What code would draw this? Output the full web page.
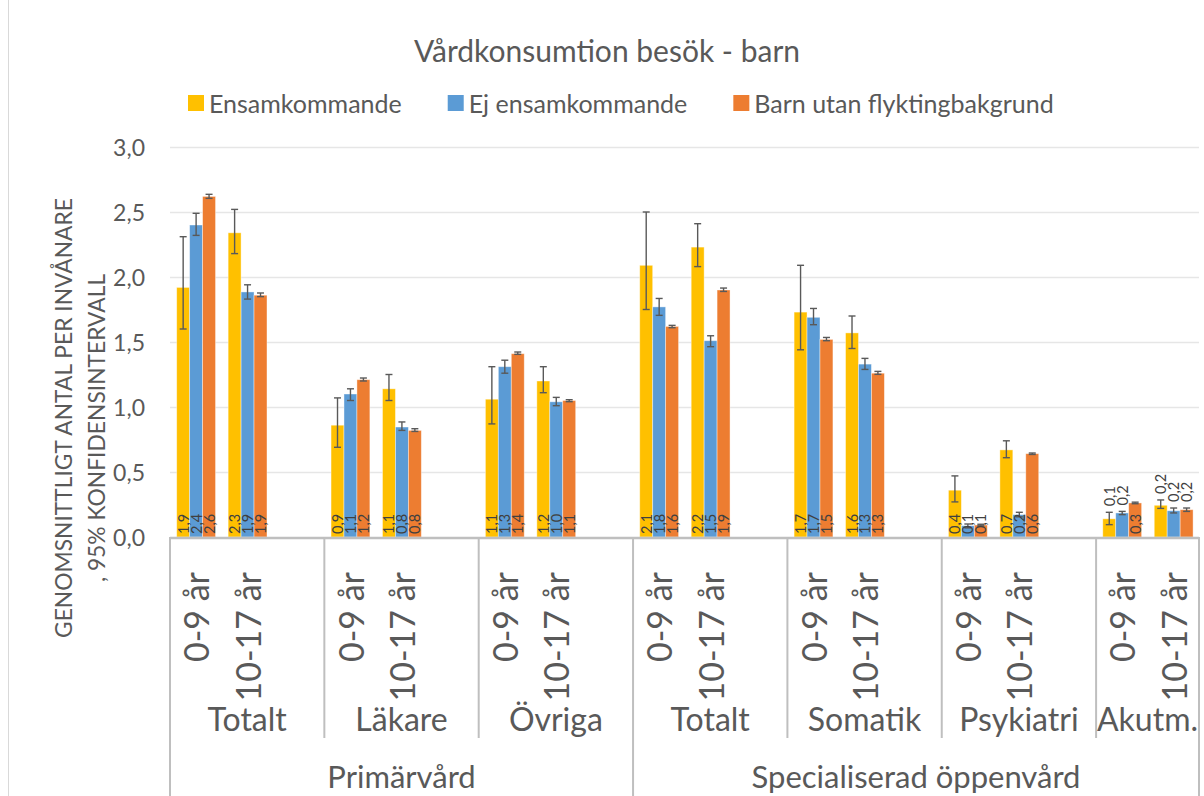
<!DOCTYPE html>
<html>
<head>
<meta charset="utf-8">
<script src="https://cdn.jsdelivr.net/npm/d3@7"></script>
<style>
  body { margin: 0; background: #fff; }
  text { font-family: Lato, 'Open Sans', sans-serif; fill: #595959; }
</style>
</head>
<body>
<div id="chart"></div>
<script>
const title = 'Vårdkonsumtion besök - barn';
const series = ['Ensamkommande', 'Ej ensamkommande', 'Barn utan flyktingbakgrund'];
const colors = ['#FFC000', '#5B9BD5', '#ED7D31'];
const ages = ['0-9 år', '10-17 år'];
const groups = ['Totalt', 'Läkare', 'Övriga', 'Totalt', 'Somatik', 'Psykiatri', 'Akutm.'];
const primaries = ['Primärvård', 'Specialiserad öppenvård'];
const primaryOf = [0, 0, 0, 1, 1, 1, 1];
const yTicks = [0, 0.5, 1, 1.5, 2, 2.5, 3];
const yTitle = ['GENOMSNITTLIGT ANTAL PER INVÅNARE', ', 95% KONFIDENSINTERVALL'];

// one value per group x age (14), in group order
const ensam = [1.92, 2.34, 0.86, 1.14, 1.06, 1.2, 2.09, 2.23, 1.73, 1.57, 0.36, 0.67, 0.14, 0.244];
const ensamLow = [1.6, 2.18, 0.69, 1.05, 0.87, 1.11, 1.75, 2.08, 1.44, 1.45, 0.27, 0.61, 0.095, 0.22];
const ensamHigh = [2.31, 2.52, 1.07, 1.25, 1.31, 1.31, 2.5, 2.41, 2.09, 1.7, 0.47, 0.74, 0.19, 0.285];
const ej = [2.4, 1.885, 1.1, 0.846, 1.31, 1.04, 1.77, 1.51, 1.69, 1.33, 0.087, 0.172, 0.185, 0.202];
const ejLow = [2.32, 1.83, 1.05, 0.82, 1.26, 1.01, 1.705, 1.464, 1.633, 1.289, 0.07, 0.155, 0.172, 0.185];
const ejHigh = [2.49, 1.94, 1.14, 0.885, 1.36, 1.074, 1.835, 1.548, 1.758, 1.374, 0.1, 0.19, 0.197, 0.223];
const barn = [2.62, 1.86, 1.21, 0.82, 1.41, 1.05, 1.62, 1.9, 1.52, 1.26, 0.092, 0.641, 0.262, 0.21];
const barnLow = [2.605, 1.849, 1.2, 0.812, 1.405, 1.041, 1.61, 1.889, 1.51, 1.251, 0.086, 0.635, 0.256, 0.197];
const barnHigh = [2.636, 1.877, 1.223, 0.833, 1.423, 1.056, 1.628, 1.915, 1.535, 1.274, 0.098, 0.646, 0.268, 0.223];

const values = [ensam, ej, barn];
const lows = [ensamLow, ejLow, barnLow];
const highs = [ensamHigh, ejHigh, barnHigh];

const width = 1204;
const height = 796;
const plot = { left: 170, right: 1199, top: 147, bottom: 537 };

const svg = d3
  .select('#chart')
  .append('svg')
  .attr('width', width)
  .attr('height', height);

svg
  .append('rect')
  .attr('width', width)
  .attr('height', height)
  .attr('fill', '#fff');

// chart area border (left edge only is visible)
svg
  .append('line')
  .attr('x1', 8.5)
  .attr('x2', 8.5)
  .attr('y1', 0)
  .attr('y2', height)
  .attr('stroke', '#d9d9d9');

// each group gets 3 slots (2 ages + a spacer), last group has no spacer
const slotCount = groups.length * 3 - 1;
const x = d3
  .scaleBand()
  .domain(d3.range(slotCount))
  .range([plot.left, plot.right]);
const bw = x.bandwidth();
const xSub = d3
  .scaleBand()
  .domain(d3.range(series.length))
  .range([bw * 0.13, bw * 0.885]);
const y = d3
  .scaleLinear()
  .domain([0, 3])
  .range([plot.bottom, plot.top]);

const groupStart = g => x(g * 3);
const groupEnd = g => (g === groups.length - 1 ? plot.right : x(g * 3 + 3));

// gridlines
svg
  .append('g')
  .selectAll('line')
  .data(yTicks.slice(1))
  .enter()
  .append('line')
  .attr('x1', plot.left)
  .attr('x2', plot.right)
  .attr('y1', d => Math.round(y(d)) + 0.5)
  .attr('y2', d => Math.round(y(d)) + 0.5)
  .attr('stroke', '#e6e6e6')
  .attr('stroke-width', 1.5);

svg
  .append('g')
  .selectAll('text')
  .data(yTicks)
  .enter()
  .append('text')
  .attr('x', 145)
  .attr('y', d => y(d))
  .attr('text-anchor', 'end')
  .attr('dominant-baseline', 'central')
  .style('font-size', '23px')
  .text(d => d.toFixed(1).replace('.', ','));

// y axis title, two rotated lines
svg
  .append('g')
  .selectAll('text')
  .data(yTitle)
  .enter()
  .append('text')
  .attr('transform', (d, i) => `translate(${63 + i * 33},${418 + i * 10}) rotate(-90)`)
  .attr('text-anchor', 'middle')
  .attr('dominant-baseline', 'central')
  .style('font-size', '22.8px')
  .text(d => d);

// bars
const cells = [];
values.forEach((vals, s) => {
  vals.forEach((v, c) => {
    const g = Math.floor(c / 2);
    const slot = g * 3 + (c % 2);
    cells.push({ s, g, v, lo: lows[s][c], hi: highs[s][c], x0: x(slot) + xSub(s) });
  });
});

const bars = svg.append('g');
bars
  .selectAll('rect')
  .data(cells)
  .enter()
  .append('rect')
  .attr('x', d => d.x0)
  .attr('y', d => y(d.v))
  .attr('width', xSub.bandwidth())
  .attr('height', d => y(0) - y(d.v))
  .attr('fill', d => colors[d.s])
  .attr('stroke', '#fff')
  .attr('stroke-opacity', 0.5)
  .attr('stroke-width', 0.8);

// error bars
const capW = 3.5;
const err = svg
  .append('g')
  .attr('stroke', '#595959')
  .attr('stroke-width', 1.4)
  .selectAll('g')
  .data(cells)
  .enter()
  .append('g')
  .attr('transform', d => `translate(${d.x0 + xSub.bandwidth() / 2},0)`);
err
  .append('line')
  .attr('y1', d => y(d.lo))
  .attr('y2', d => y(d.hi));
err
  .append('line')
  .attr('x1', -capW)
  .attr('x2', capW)
  .attr('y1', d => y(d.lo))
  .attr('y2', d => y(d.lo));
err
  .append('line')
  .attr('x1', -capW)
  .attr('x2', capW)
  .attr('y1', d => y(d.hi))
  .attr('y2', d => y(d.hi));

// data labels, inside base; short bars in the last group go above
svg
  .append('g')
  .selectAll('text')
  .data(cells)
  .enter()
  .append('text')
  .attr('transform', d => {
    const outside = d.g === groups.length - 1 && y(0) - y(d.v) < 32;
    const ty = outside ? y(d.hi) - 6 : y(0) - 3;
    return `translate(${d.x0 + xSub.bandwidth() / 2},${ty}) rotate(-90)`;
  })
  .attr('dominant-baseline', 'central')
  .style('font-size', '14.5px')
  .style('fill', '#404040')
  .text(d => d.v.toFixed(1).replace('.', ','));

// category axis
const axisColor = '#bfbfbf';
svg
  .append('line')
  .attr('x1', plot.left)
  .attr('x2', plot.right)
  .attr('y1', plot.bottom + 1)
  .attr('y2', plot.bottom + 1)
  .attr('stroke', axisColor)
  .attr('stroke-width', 2.5);

const bounds = d3.range(groups.length + 1).map(g =>
  g === groups.length ? plot.right : groupStart(g)
);
svg
  .append('g')
  .selectAll('line')
  .data(bounds)
  .enter()
  .append('line')
  .attr('x1', d => d)
  .attr('x2', d => d)
  .attr('y1', plot.bottom)
  .attr('y2', (d, i) =>
    i === 0 || i === groups.length || primaryOf[i] !== primaryOf[i - 1] ? height : 738
  )
  .attr('stroke', axisColor)
  .attr('stroke-width', 2);

// age labels
const ageCells = d3.range(groups.length * 2).map(c => ({
  label: ages[c % 2],
  cx: x(Math.floor(c / 2) * 3 + (c % 2)) + bw / 2,
}));
svg
  .append('g')
  .selectAll('text')
  .data(ageCells)
  .enter()
  .append('text')
  .attr('transform', d => `translate(${d.cx},572) rotate(-90)`)
  .attr('text-anchor', 'end')
  .attr('dominant-baseline', 'central')
  .style('font-size', '34px')
  .text(d => d.label);

svg
  .append('g')
  .selectAll('text')
  .data(groups)
  .enter()
  .append('text')
  .attr('x', (d, g) => (groupStart(g) + groupEnd(g)) / 2)
  .attr('y', 718)
  .attr('text-anchor', 'middle')
  .attr('dominant-baseline', 'central')
  .style('font-size', '32px')
  .text(d => d);

svg
  .append('g')
  .selectAll('text')
  .data(primaries)
  .enter()
  .append('text')
  .attr('x', (d, p) => {
    const gs = d3.range(groups.length).filter(g => primaryOf[g] === p);
    return (groupStart(gs[0]) + groupEnd(gs[gs.length - 1])) / 2;
  })
  .attr('y', 776)
  .attr('text-anchor', 'middle')
  .attr('dominant-baseline', 'central')
  .style('font-size', '31px')
  .text(d => d);

// title
svg
  .append('text')
  .attr('x', 607)
  .attr('y', 50)
  .attr('text-anchor', 'middle')
  .attr('dominant-baseline', 'central')
  .style('font-size', '30px')
  .text(title);

// legend
const legend = svg.append('g').attr('transform', 'translate(188,103)');
let lx = 0;
series.forEach((name, i) => {
  const item = legend.append('g').attr('transform', `translate(${lx},0)`);
  item
    .append('rect')
    .attr('x', 0)
    .attr('y', -8)
    .attr('width', 16)
    .attr('height', 16)
    .attr('fill', colors[i]);
  const t = item
    .append('text')
    .attr('x', 21)
    .attr('dominant-baseline', 'central')
    .style('font-size', '25px')
    .text(name);
  lx += 21 + t.node().getComputedTextLength() + 46;
});
</script>
</body>
</html>
